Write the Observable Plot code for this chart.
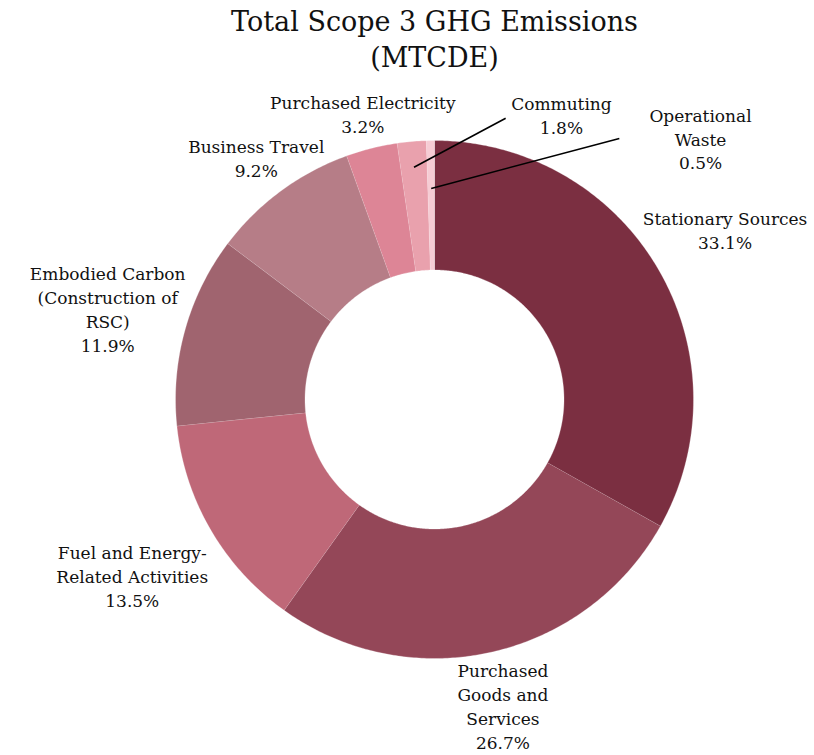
<!DOCTYPE html>
<html>
<head>
<meta charset="utf-8">
<script src="https://cdn.jsdelivr.net/npm/d3@7"></script>
<script src="https://cdn.jsdelivr.net/npm/@observablehq/plot@0.6"></script>
<style>
  html, body { margin: 0; padding: 0; background: #fff; }
  #chart svg { display: block; }
</style>
</head>
<body>
<div id="chart"></div>
<script>
// ---- data ----
const categories = [
  "Stationary Sources",
  "Purchased Goods and Services",
  "Fuel and Energy-Related Activities",
  "Embodied Carbon (Construction of RSC)",
  "Business Travel",
  "Purchased Electricity",
  "Commuting",
  "Operational Waste"
];
const labelLines = [
  "Stationary Sources",
  "Purchased\nGoods and\nServices",
  "Fuel and Energy-\nRelated Activities",
  "Embodied Carbon\n(Construction of\nRSC)",
  "Business Travel",
  "Purchased Electricity",
  "Commuting",
  "Operational\nWaste"
];
const shares = [33.1, 26.7, 13.5, 11.9, 9.2, 3.2, 1.8, 0.5];
const colors = ["#7b2f41", "#944758", "#bf6878", "#a0646f", "#b67d87", "#dd8596", "#e9a1ad", "#f6ccd4"];
const titleText = "Total Scope 3 GHG Emissions\n(MTCDE)";

// ---- layout (label placement: radius factor, optional angle override in degrees, leader) ----
const labelLayout = [
  {r: 1.30},
  {r: 1.21},
  {r: 1.35},
  {r: 1.31},
  {r: 1.16},
  {r: 1.14},
  {r: 1.205, a: 24.0, leader: {r0: 0.90, a1: 14.2, r1: 1.12}},
  {r: 1.44, a: 45.5, leader: {r0: 0.815, a1: 35.3, r1: 1.235}}
];
const innerR = 0.5;
const outerR = 1.0;

const data = categories.map((c, i) => ({name: c, label: labelLines[i], v: shares[i]}));
const arcs = d3.pie().sort(null).value(d => d.v)(data);

// polygon points of each slice (geometry derived from data angles)
const slicePts = [];
arcs.forEach(a => {
  const n = Math.max(4, Math.ceil((a.endAngle - a.startAngle) / 0.01));
  for (let k = 0; k <= n; k++) {
    const t = a.startAngle + (a.endAngle - a.startAngle) * k / n;
    slicePts.push({name: a.data.name, x: outerR * Math.sin(t), y: outerR * Math.cos(t)});
  }
  for (let k = n; k >= 0; k--) {
    const t = a.startAngle + (a.endAngle - a.startAngle) * k / n;
    slicePts.push({name: a.data.name, x: innerR * Math.sin(t), y: innerR * Math.cos(t)});
  }
});

const rad = d => d * Math.PI / 180;
const labels = arcs.map((a, i) => {
  const L = labelLayout[i];
  const mid = (a.startAngle + a.endAngle) / 2;
  const ang = L.a !== undefined ? rad(L.a) : mid;
  return {
    text: a.data.label + "\n" + a.data.v.toFixed(1) + "%",
    x: L.r * Math.sin(ang),
    y: L.r * Math.cos(ang)
  };
});
const leaders = arcs.map((a, i) => ({a, L: labelLayout[i]})).filter(d => d.L.leader).map(({a, L}) => {
  const mid = (a.startAngle + a.endAngle) / 2;
  return {
    x1: L.leader.r0 * Math.sin(mid), y1: L.leader.r0 * Math.cos(mid),
    x2: L.leader.r1 * Math.sin(rad(L.leader.a1)), y2: L.leader.r1 * Math.cos(rad(L.leader.a1))
  };
});

const cx = 434, cy = 399, R = 259;
const plot = Plot.plot({
  width: 814,
  height: 755,
  margin: 0,
  style: {fontFamily: "'DejaVu Serif', serif", background: "#fff"},
  x: {domain: [-1, 1], range: [cx - R, cx + R], axis: null},
  y: {domain: [-1, 1], range: [cy + R, cy - R], axis: null},
  color: {domain: categories, range: colors},
  marks: [
    Plot.line(slicePts, {x: "x", y: "y", z: "name", fill: "name", stroke: "#ffffff", strokeWidth: 0.4, strokeOpacity: 0.7, curve: "linear"}),
    Plot.link(leaders, {x1: "x1", y1: "y1", x2: "x2", y2: "y2", stroke: "#000", strokeWidth: 1.6}),
    Plot.text(labels, {x: "x", y: "y", text: "text", fontSize: 17, lineHeight: 1.4, fill: "#111", textAnchor: "middle"}),
    Plot.text([titleText], {frameAnchor: "top", text: d => d, fontSize: 27, lineHeight: 1.3, dy: 6, fill: "#111", dx: 27})
  ]
});
document.getElementById("chart").appendChild(plot);
</script>
</body>
</html>
